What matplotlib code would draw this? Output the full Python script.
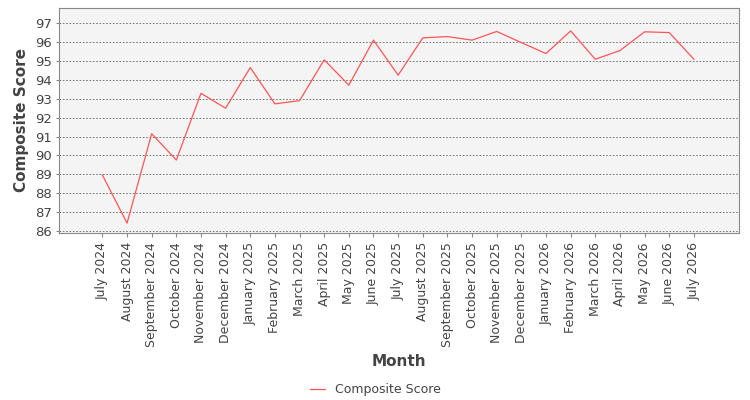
import matplotlib
matplotlib.use("Agg")
import matplotlib.pyplot as plt

months = ["July 2024", "August 2024", "September 2024", "October 2024", "November 2024",
          "December 2024", "January 2025", "February 2025", "March 2025", "April 2025",
          "May 2025", "June 2025", "July 2025", "August 2025", "September 2025",
          "October 2025", "November 2025", "December 2025", "January 2026", "February 2026",
          "March 2026", "April 2026", "May 2026", "June 2026", "July 2026"]
scores = [88.97, 86.42, 91.15, 89.76, 93.29, 92.5, 94.65, 92.73, 92.9, 95.06,
          93.72, 96.1, 94.25, 96.22, 96.29, 96.1, 96.56, 95.97, 95.39, 96.59,
          95.09, 95.55, 96.54, 96.5, 95.09]
yticks = list(range(86, 98))

fig = plt.figure(figsize=(7.5, 4), dpi=100)
ax = fig.add_axes([0.079, 0.4175, 0.906, 0.5625])
ax.set_facecolor("#f4f4f4")

x = list(range(len(months)))
ax.plot(x, scores, color="#ff5555", linewidth=0.9, label="Composite Score")

ax.set_xlim(-1.75, len(months) - 1 + 1.82)
ax.set_ylim(85.9, 97.8)
ax.set_xticks(x)
ax.set_xticklabels(months, rotation=90, fontsize=9, color="#444444")
ax.set_yticks(yticks)
ax.tick_params(axis="y", labelsize=9.5, labelcolor="#444444", color="#888888", length=2)
ax.tick_params(axis="x", color="#888888", length=3)

ax.grid(axis="y", color="#666666", linestyle=(0, (2, 2)), linewidth=0.6)
for s in ax.spines.values():
    s.set_color("#888888")

ax.set_ylabel("Composite Score", fontsize=11, fontweight="bold", color="#444444")
ax.set_xlabel("Month", fontsize=11, fontweight="bold", color="#444444", labelpad=5)

fig.legend(loc="lower center", bbox_to_anchor=(0.5, -0.018), frameon=False, fontsize=9,
           handlelength=1.2, labelcolor="#444444")

fig.savefig("out.png", dpi=100)
